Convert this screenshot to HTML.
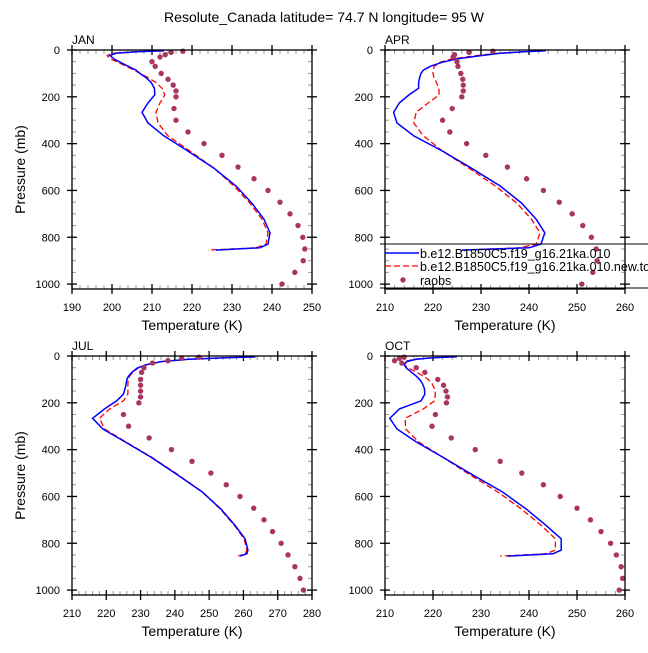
<!DOCTYPE html>
<html><head><meta charset="utf-8"><style>
body{margin:0;background:#fff}
svg text{font-family:"Liberation Sans",sans-serif}
</style></head><body>
<svg id="c" width="648" height="648" viewBox="0 0 648 648" xmlns="http://www.w3.org/2000/svg">
<text x="324" y="22" font-size="14" text-anchor="middle">Resolute_Canada  latitude= 74.7 N longitude= 95 W</text>
</svg>
<script>
const modelP=[3.6,7.6,14,24,38,52,69,86,100,118,139,163,192,226,266,312,367,432,505,581,655,723,781,829,845,855];
const janBlue=[213,206,201,199.5,200.5,202,204,206,207,208.5,209.8,210.6,210.7,209,207.5,209,213,219,225.5,231,235,238,239.5,239,237,226];
const janRed=[213,205,200,198.8,199.5,201.5,203.5,205.5,207,209,211,212.5,213.2,212,211,211.5,214,219.5,225.5,230.5,234.5,237.5,239,238.5,236,224];
const aprBlue=[243.5,239,234,230,225,222,219.5,218,217.5,217.2,217,217,215,213,211.8,212.5,216,222,228,234,238.5,241.5,243.3,242.5,240,226];
const aprRed=[243,238.5,233.5,229,224,221.5,220.3,220,220,220.2,220.7,221.2,221.3,219,216.5,216,218,222,227.5,233,237.5,240.5,242.3,241.5,238,226];
const julBlue=[263.5,255,244,236,231.5,229,227.5,226.5,226,225.8,225.5,225,223,219.5,216,219,225.5,233,240.5,248,253.5,257.5,260.5,261.3,261,259];
const julRed=[263.5,255,244,236,231.5,229.2,227.8,226.8,226.4,226.3,226.3,226.3,225,221,218,219.5,225.7,233.2,240.7,248,253.3,257.3,260.2,261,260.5,258.5];
const octBlue=[225,220,216.5,214.5,214,214.5,215.5,216.5,217.2,217.8,218.2,218.3,217.5,213,211,212.5,216.5,222,228,234.5,239.5,243.5,246.7,246.7,245,235.5];
const octRed=[225,219.5,216,214,214,215,216.5,218,219,219.8,220.3,220.5,220.3,218,214.2,214.3,217,222,227.5,233.5,238.5,242.5,245.5,245.5,243.5,234];
const obsP=[5,10,20,30,50,70,100,125,150,175,200,250,300,350,400,450,500,550,600,650,700,750,800,850,900,950,1000];
const janObs=[217.7,214.8,213.3,212,210,210.8,212.3,214,215.3,216,216,215.5,216,219,223,227.5,231.5,235.5,239,242,244.5,246.5,247.7,248.2,247.8,245.7,242.5];
const aprObs=[232.5,227.5,224.5,224.2,225,225.2,225.8,226.2,226.3,226.3,226,224,222,223.5,227,231,235.5,239.5,243,246.3,249,251.2,253,254,254.2,253.3,251];
const julObs=[247,242,238,233.5,231,230.3,230,230,230,230,229.5,225,226.5,232.5,239,245,250.5,255,259,263,266,268.5,271,273,275,276.5,277.5];
const octObs=[214,213,212,213.5,216.5,218.3,221,222.2,222.7,223,222.8,220.5,219.8,223.8,228.8,234,238.5,243,246.5,250,252.8,255,257,258.2,259.2,259.5,258.8];
const janTicks=[190,200,210,220,230,240,250];
const t210_260=[210,220,230,240,250,260];
const t210_280=[210,220,230,240,250,260,270,280];
const pTicks=[0,200,400,600,800,1000];
const legendLabels=["b.e12.B1850C5.f19_g16.21ka.010","b.e12.B1850C5.f19_g16.21ka.010.new.to","raobs"];

const svg=document.getElementById('c');
const NS='http://www.w3.org/2000/svg';
function mk(tag,at,parent){const e=document.createElementNS(NS,tag);for(const k in at)e.setAttribute(k,at[k]);(parent||svg).appendChild(e);return e;}

const panels=[
 {name:'jan',label:'JAN',x0:72,x1:312,y0:50,y1:289,tmin:190,tmax:250,ticks:janTicks,blue:janBlue,red:janRed,obs:janObs,ylab:true},
 {name:'apr',label:'APR',x0:385,x1:625,y0:50,y1:289,tmin:210,tmax:260,ticks:t210_260,blue:aprBlue,red:aprRed,obs:aprObs,ylab:false},
 {name:'jul',label:'JUL',x0:72,x1:312,y0:356,y1:595,tmin:210,tmax:280,ticks:t210_280,blue:julBlue,red:julRed,obs:julObs,ylab:true},
 {name:'oct',label:'OCT',x0:385,x1:625,y0:356,y1:595,tmin:210,tmax:260,ticks:t210_260,blue:octBlue,red:octRed,obs:octObs,ylab:false}
];
const PMAX=1021;
panels.forEach(P=>{
 const g=mk('g',{});
 
 
 const sx=t=>P.x0+(t-P.tmin)/(P.tmax-P.tmin)*(P.x1-P.x0);
 const sy=p=>P.y0+p/PMAX*(P.y1-P.y0);
 for(let p=50;p<PMAX;p+=50){ if(p%200===0)continue;
  mk('line',{x1:P.x0,x2:P.x0+4,y1:sy(p),y2:sy(p),stroke:'#999','stroke-width':1},g);
  mk('line',{x1:P.x1,x2:P.x1-4,y1:sy(p),y2:sy(p),stroke:'#999','stroke-width':1},g);}
 const step=2;
 for(let t=P.tmin+step;t<P.tmax;t+=step){ if(t%10===0)continue;
  mk('line',{x1:sx(t),x2:sx(t),y1:P.y0,y2:P.y0+4,stroke:'#999','stroke-width':1},g);
  mk('line',{x1:sx(t),x2:sx(t),y1:P.y1,y2:P.y1-4,stroke:'#999','stroke-width':1},g);}
 pTicks.forEach(p=>{
  mk('line',{x1:P.x0-5,x2:P.x0+5,y1:sy(p),y2:sy(p),stroke:'#000','stroke-width':1.3},g);
  mk('line',{x1:P.x1-5,x2:P.x1+5,y1:sy(p),y2:sy(p),stroke:'#000','stroke-width':1.3},g);
  const tx=mk('text',{x:P.x0-12,y:sy(p)+4,'font-size':11,'text-anchor':'end'},g);tx.textContent=p;
  
  
 });
 P.ticks.forEach(t=>{
  mk('line',{x1:sx(t),x2:sx(t),y1:P.y0-5,y2:P.y0+5,stroke:'#000','stroke-width':1.3},g);
  mk('line',{x1:sx(t),x2:sx(t),y1:P.y1-5,y2:P.y1+5,stroke:'#000','stroke-width':1.3},g);
  const tx=mk('text',{x:sx(t),y:P.y1+22,'font-size':11,'text-anchor':'middle'},g);tx.textContent=t;
  
  
 });
 const clip=mk('clipPath',{id:'cl'+P.name},g);
 mk('rect',{x:P.x0,y:P.y0-3,width:P.x1-P.x0,height:P.y1-P.y0+3},clip);
 const pts=a=>a.map((t,i)=>sx(t).toFixed(1)+','+sy(modelP[i]).toFixed(1)).join(' ');
 const red=mk('polyline',{points:pts(P.red),fill:'none',stroke:'#f00','stroke-width':1.3,'stroke-dasharray':'6,3','clip-path':'url(#cl'+P.name+')'},g);
 
 
 const blue=mk('polyline',{points:pts(P.blue),fill:'none',stroke:'#0000ff','stroke-width':1.5,'clip-path':'url(#cl'+P.name+')'},g);
 
 
 P.obs.forEach((t,i)=>{
  const c=mk('circle',{cx:sx(t),cy:sy(obsP[i]),r:2.7,fill:'#a8365e'},g);
  
  
 });
 mk('rect',{x:P.x0,y:P.y0,width:P.x1-P.x0,height:P.y1-P.y0,fill:'none',stroke:'#000','stroke-width':1.3},g);
 const lb=mk('text',{x:P.x0,y:P.y0-6,'font-size':12},g);lb.textContent=P.label;
 
 
 const xt=mk('text',{x:(P.x0+P.x1)/2,y:P.y1+41,'font-size':14,'text-anchor':'middle'},g);xt.textContent='Temperature (K)';
 
 
 if(P.ylab){
  const yt=mk('text',{x:0,y:0,'font-size':14,'text-anchor':'middle',transform:`translate(25,${(P.y0+P.y1)/2}) rotate(-90)`},g);yt.textContent='Pressure (mb)';
  
  
 }
});
const lg=mk('g',{});


mk('line',{x1:380,x2:648,y1:244,y2:244,stroke:'#000','stroke-width':1},lg);
mk('line',{x1:380,x2:648,y1:288,y2:288,stroke:'#000','stroke-width':1},lg);
const ly=[253,266,280];
legendLabels.forEach((s,i)=>{
 const e=mk('g',{},lg);
 
 
 if(i===0)mk('line',{x1:385,x2:419,y1:ly[i],y2:ly[i],stroke:'#0000ff','stroke-width':1.5},e);
 if(i===1)mk('line',{x1:385,x2:419,y1:ly[i],y2:ly[i],stroke:'#f00','stroke-width':1.3,'stroke-dasharray':'6,3'},e);
 if(i===2)mk('circle',{cx:403,cy:ly[i],r:2.7,fill:'#a8365e'},e);
 const t=mk('text',{x:420,y:ly[i]+5,'font-size':12.5},e);t.textContent=s;
});
</script>
</body></html>
